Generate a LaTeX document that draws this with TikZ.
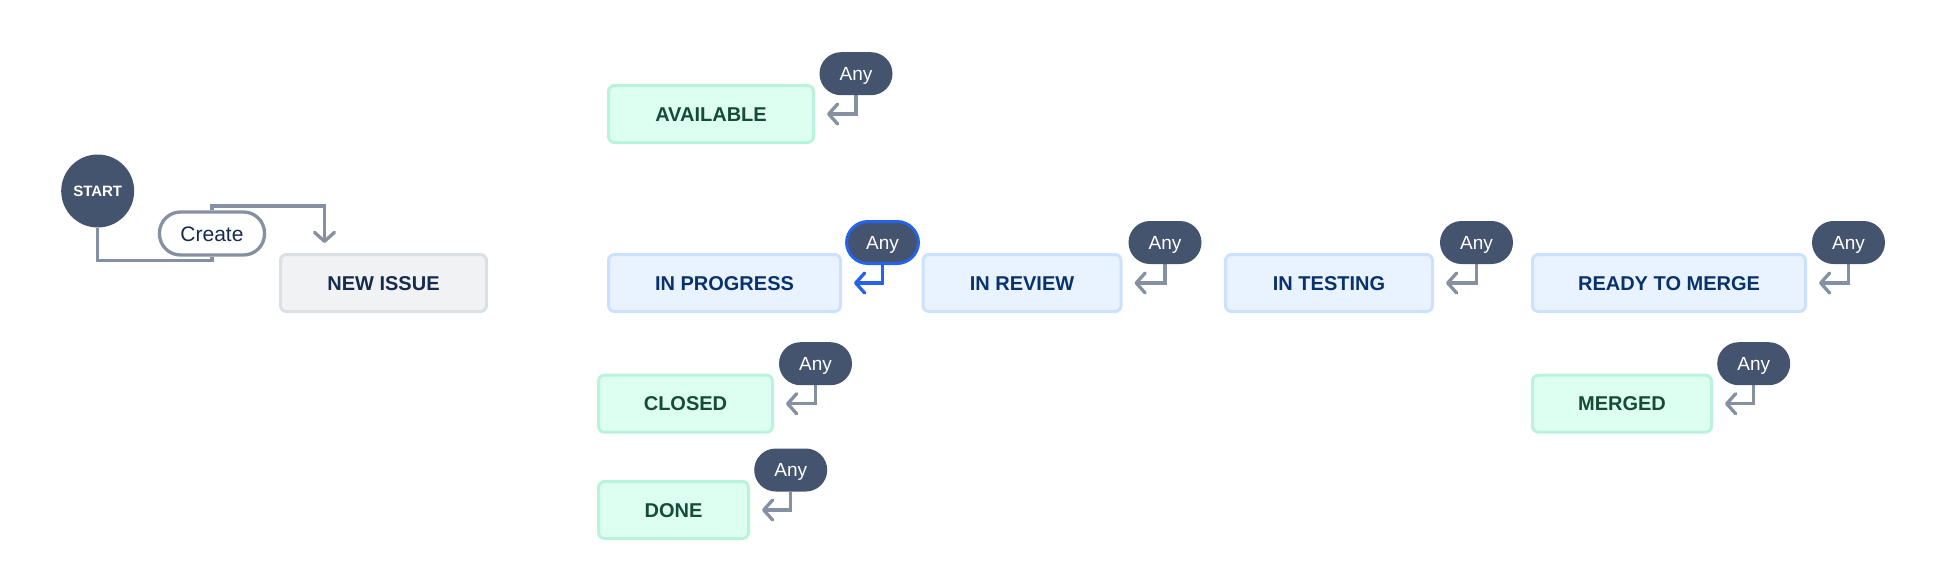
\documentclass[tikz,border=0pt]{standalone}
\usepackage{fontspec}
\setmainfont{Liberation Sans}
\usetikzlibrary{arrows.meta,backgrounds}
\definecolor{pillc}{HTML}{44546F}
\definecolor{connc}{HTML}{8590A2}
\definecolor{hlblue}{HTML}{2563EB}
\definecolor{bluefill}{HTML}{E9F2FF}
\definecolor{blueline}{HTML}{CCE0FF}
\definecolor{bluetext}{HTML}{09326C}
\definecolor{greenfill}{HTML}{DCFFF1}
\definecolor{greenline}{HTML}{BAF3DB}
\definecolor{greentext}{HTML}{164B35}
\definecolor{grayfill}{HTML}{F1F2F4}
\definecolor{grayline}{HTML}{DCDFE4}
\definecolor{darktext}{HTML}{172B4D}
\begin{document}
\begin{tikzpicture}[x=1pt,y=-1pt,
  lbl/.style={font=\fontsize{20}{24}\selectfont\bfseries, text height=14.3pt, text depth=0pt,
    minimum height=57pt, rounded corners=6pt, line width=3pt, inner sep=0pt},
  bluebox/.style={lbl, fill=bluefill, draw=blueline, text=bluetext},
  greenbox/.style={lbl, fill=greenfill, draw=greenline, text=greentext},
  graybox/.style={lbl, fill=grayfill, draw=grayline, text=darktext},
  anypill/.style={fill=pillc, text=white, font=\fontsize{19}{22}\selectfont,
    text height=13.5pt, text depth=0pt, minimum width=73pt, minimum height=43pt,
    rounded corners=21.5pt, inner sep=0pt},
  conn/.style={draw=connc, line width=3.3pt, -{Straight Barb[length=9pt,width=20pt,round]}},
  hlconn/.style={conn, draw=hlblue},
]
\useasboundingbox (0,0) rectangle (1938,582);

% start and create
\node[circle, fill=pillc, minimum size=73pt, inner sep=0pt, text=white,
  font=\fontsize{15}{16}\selectfont\bfseries] (start) at (97.7,191) {START};
\node[draw=connc, line width=3.3pt, fill=white, rounded corners=21pt, minimum width=105pt,
  minimum height=43pt, inner sep=0pt, text height=15pt, text depth=0pt,
  font=\fontsize{21}{24}\selectfont, text=darktext] (create) at (212,233.5) {Create};
\node[graybox, minimum width=206pt] (newissue) at (383.5,283) {NEW ISSUE};

% status boxes
\node[greenbox, minimum width=205pt] (avail) at (711,114) {AVAILABLE};
\node[bluebox, minimum width=232pt] (inprog) at (724.5,283) {IN PROGRESS};
\node[bluebox, minimum width=198pt] (inreview) at (1022,283) {IN REVIEW};
\node[bluebox, minimum width=207pt] (intest) at (1329,283) {IN TESTING};
\node[bluebox, minimum width=273pt] (ready) at (1669,283) {READY TO MERGE};
\node[greenbox, minimum width=174pt] (closed) at (685.5,403.7) {CLOSED};
\node[greenbox, minimum width=150pt] (done) at (673.5,510) {DONE};
\node[greenbox, minimum width=179pt] (merged) at (1622,403.7) {MERGED};

% any pills
\node[anypill] (a1) at (856,73.7) {Any};
\node[anypill, draw=hlblue, line width=3pt, minimum width=72pt, minimum height=42pt] (a2) at (882.5,242.5) {Any};
\node[anypill] (a3) at (1165,242.5) {Any};
\node[anypill] (a4) at (1476.5,242.5) {Any};
\node[anypill] (a5) at (1848.5,242.5) {Any};
\node[anypill] (a6) at (815.5,363.7) {Any};
\node[anypill] (a7) at (790.7,470) {Any};
\node[anypill] (a8) at (1753.7,363.7) {Any};

\begin{scope}[on background layer]
  \draw[draw=connc, line width=3.3pt] (start.south) |- ([yshift=-3.5pt]create.south) -- (create.south);
  \draw[conn, shorten >=10pt] (create.north) -- ([yshift=4.5pt]create.north)
     -| ([xshift=45.5pt]newissue.north west);
  \draw[conn, shorten >=12pt] (a1.south) |- (avail.east);
  \draw[hlconn, shorten >=12pt] (a2.south) |- (inprog.east);
  \draw[conn, shorten >=12pt] (a3.south) |- (inreview.east);
  \draw[conn, shorten >=12pt] (a4.south) |- (intest.east);
  \draw[conn, shorten >=12pt] (a5.south) |- (ready.east);
  \draw[conn, shorten >=12pt] (a6.south) |- (closed.east);
  \draw[conn, shorten >=12pt] (a7.south) |- (done.east);
  \draw[conn, shorten >=12pt] (a8.south) |- (merged.east);
\end{scope}
\end{tikzpicture}
\end{document}
